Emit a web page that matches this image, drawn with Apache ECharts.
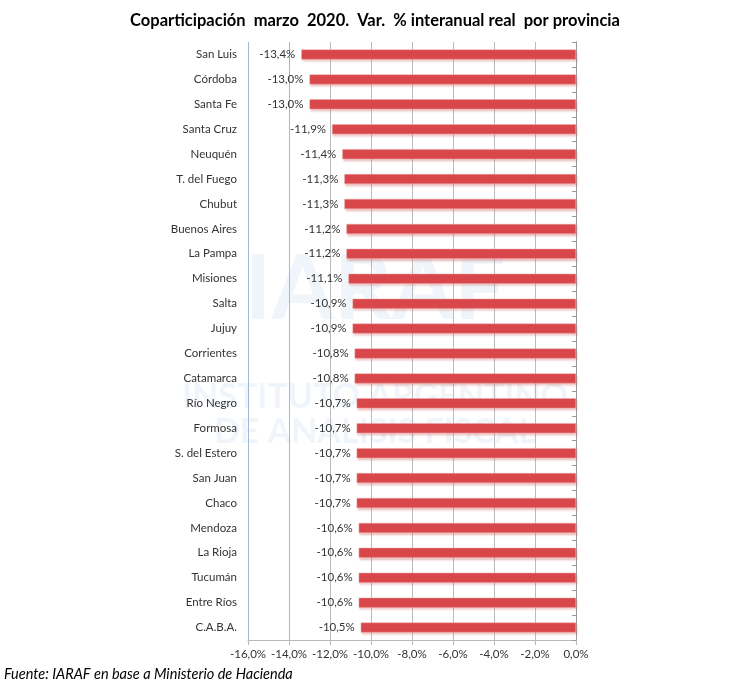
<!DOCTYPE html>
<html>
<head>
<meta charset="utf-8">
<script src="https://cdn.jsdelivr.net/npm/echarts@6/dist/echarts.min.js"></script>
<style>html,body{margin:0;padding:0;background:#fff;}#c{width:750px;height:694px;}</style>
</head>
<body>
<div id="c"></div>
<script>
var provinces = ['San Luis','Córdoba','Santa Fe','Santa Cruz','Neuquén','T. del Fuego','Chubut','Buenos Aires','La Pampa','Misiones','Salta','Jujuy','Corrientes','Catamarca','Río Negro','Formosa','S. del Estero','San Juan','Chaco','Mendoza','La Rioja','Tucumán','Entre Ríos','C.A.B.A.'];
var variation = [-13.4,-13.0,-13.0,-11.9,-11.4,-11.3,-11.3,-11.2,-11.2,-11.1,-10.9,-10.9,-10.8,-10.8,-10.7,-10.7,-10.7,-10.7,-10.7,-10.6,-10.6,-10.6,-10.6,-10.5];
var titleText = 'Coparticipación  marzo  2020.  Var.  % interanual real  por provincia';
var sourceText = 'Fuente: IARAF en base a Ministerio de Hacienda';
var watermark = ['IARAF', 'INSTITUTO ARGENTINO', 'DE ANALISIS FISCAL'];

function pct(v){ return v.toFixed(1).replace('.', ',') + '%'; }

var FONT = 'Lato, "Open Sans", sans-serif';
var chart = echarts.init(document.getElementById('c'));
chart.setOption({
  backgroundColor: '#fff',
  animation: false,
  textStyle: { fontFamily: FONT },
  title: {
    text: titleText,
    left: 'center', top: 7,
    textStyle: { fontSize: 16.5, fontWeight: 'bold', color: '#000', fontFamily: FONT }
  },
  graphic: [
    { type: 'text', left: 4, top: 667, style: { text: sourceText, fontSize: 14.5, fontStyle: 'italic', fill: '#000', fontFamily: FONT } },
    { type: 'text', left: 'center', top: 245, z: -1, style: { text: watermark[0], fontSize: 90, fontWeight: 'bold', fill: 'rgba(120,170,210,0.12)', fontFamily: FONT } },
    { type: 'text', left: 'center', top: 380, z: -1, style: { text: watermark[1], fontSize: 34, fontWeight: 'bold', fill: 'rgba(120,170,210,0.12)', fontFamily: FONT } },
    { type: 'text', left: 'center', top: 415, z: -1, style: { text: watermark[2], fontSize: 34, fontWeight: 'bold', fill: 'rgba(120,170,210,0.12)', fontFamily: FONT } }
  ],
  grid: { left: 248, right: 174, top: 42, bottom: 54 },
  xAxis: {
    type: 'value', min: -16, max: 0, interval: 2,
    axisLine: { show: true, onZero: false, lineStyle: { color: '#b8b8b8' } },
    axisTick: { show: true, length: 5, lineStyle: { color: '#b8b8b8' } },
    axisLabel: { formatter: function(v){ return pct(v); }, color: '#333', fontSize: 11.5, margin: 8 },
    splitLine: { show: true, lineStyle: { color: ['#9dbbd6','#9dbbd6','#bcbcbc','#bcbcbc','#bcbcbc','#bcbcbc','#bcbcbc','#bcbcbc','#999999'], width: 1, type: 'solid' } }
  },
  yAxis: [{
    type: 'category', data: provinces, inverse: true, position: 'left',
    axisLine: { show: true, lineStyle: { color: '#9dbbd6' } }, axisTick: { show: false },
    axisLabel: { color: '#333', fontSize: 11.5, margin: 11 },
    splitLine: { show: false }
  }, {
    type: 'category', data: provinces, inverse: true, position: 'right',
    axisLine: { show: true, lineStyle: { color: '#999' } },
    axisTick: { show: true, inside: true, length: 4, lineStyle: { color: '#999' } },
    axisLabel: { show: false },
    splitLine: { show: false }
  }],
  series: [{
    type: 'bar', data: variation, yAxisIndex: 0, barWidth: 10,
    itemStyle: { color: '#d9474b', borderColor: 'rgba(240,170,170,0.9)', borderWidth: 0.5, shadowColor: 'rgba(210,90,90,0.35)', shadowBlur: 2, shadowOffsetX: 1, shadowOffsetY: 2 },
    label: { show: true, position: 'left', distance: 6, color: '#333', fontSize: 11.5, formatter: function(p){ return pct(p.value); } }
  }]
});
</script>
</body>
</html>
